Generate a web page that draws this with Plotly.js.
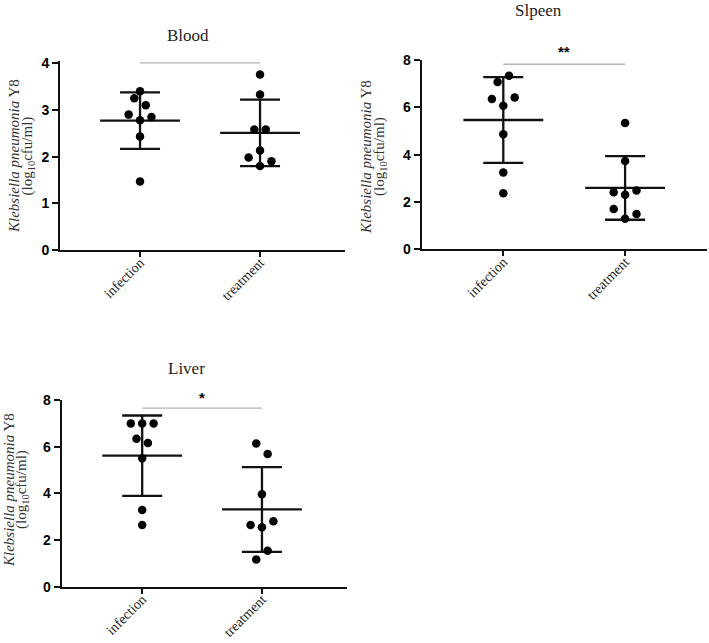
<!DOCTYPE html>
<html>
<head>
<meta charset="utf-8">
<script src="https://cdn.plot.ly/plotly-3.0.1.min.js"></script>
<style>html,body{margin:0;padding:0;background:#fff;}#chart{width:709px;height:643px;}</style>
</head>
<body>
<div id="chart"></div>
<script>
// ---------------- data ----------------
const categories = ['infection', 'treatment'];
const panelTitles = ['Blood', 'Slpeen', 'Liver'];
const sigMarks = ['', '**', '*'];
const sigLineY = [4.01, 7.82, 7.65];
const sigTextY = [4.3, 8.35, 8.09];

const bloodInfection  = [3.40, 3.25, 3.10, 2.90, 2.85, 2.78, 2.43, 1.47];
const bloodTreatment  = [3.76, 3.33, 2.58, 2.58, 2.13, 1.98, 1.90, 1.80];
const spleenInfection = [7.33, 7.07, 6.42, 6.35, 6.07, 4.86, 3.25, 2.37];
const spleenTreatment = [5.34, 3.73, 2.49, 2.41, 2.31, 1.70, 1.49, 1.29];
const liverInfection  = [6.99, 6.99, 6.99, 6.34, 6.16, 5.50, 3.29, 2.64];
const liverTreatment  = [6.14, 5.69, 3.96, 2.80, 2.64, 2.55, 1.54, 1.17];

// swarm slots (horizontal spread of dots, in half-dot steps)
const bloodInfSlots  = [0, -1, 1, -2, 2, 0, 0, 0];
const bloodTrtSlots  = [0, 0, -1, 1, 0, -2, 2, 0];
const spleenInfSlots = [1, -1, 2, -2, 0, 0, 0, 0];
const spleenTrtSlots = [0, 0, 2, -2, 0, -2, 2, 0];
const liverInfSlots  = [-2, 0, 2, -1, 1, 0, 0, 0];
const liverTrtSlots  = [-1, 1, 0, 2, -2, 0, 1, -1];

const bloodTicks = [0, 1, 2, 3, 4];
const organTicks = [0, 2, 4, 6, 8];

// ---------------- layout geometry (px) ----------------
const W = 709, H = 643;
const px = p => p / W;
const py = p => 1 - p / H;

const panels = [
  {groups: [bloodInfection, bloodTreatment], slots: [bloodInfSlots, bloodTrtSlots], ticks: bloodTicks,
   x0: 60, x1: 345, xr: [-0.667, 1.708], y0: 250, yTopPx: 61.4, yr: [0, 4.04],
   titleX: 188, titleY: 35, ytl1: 14, ytl2: 27.5, ytY: 156},
  {groups: [spleenInfection, spleenTreatment], slots: [spleenInfSlots, spleenTrtSlots], ticks: organTicks,
   x0: 421.7, x1: 706.7, xr: [-0.67, 1.67], y0: 249.3, yTopPx: 60, yr: [0, 8],
   titleX: 538, titleY: 10, ytl1: 366, ytl2: 380, ytY: 157},
  {groups: [liverInfection, liverTreatment], slots: [liverInfSlots, liverTrtSlots], ticks: organTicks,
   x0: 61.7, x1: 347, xr: [-0.672, 1.71], y0: 586.7, yTopPx: 400, yr: [0, 8],
   titleX: 187, titleY: 368, ytl1: 9, ytl2: 22, ytY: 490}
];

const slotPx = 5.7;
const mean = a => a.reduce((s, v) => s + v, 0) / a.length;
const sd = a => { const m = mean(a); return Math.sqrt(a.reduce((s, v) => s + (v - m) * (v - m), 0) / (a.length - 1)); };

const traces = [];
const layout = {
  width: W, height: H,
  margin: {l: 0, r: 0, t: 0, b: 0},
  paper_bgcolor: '#fff', plot_bgcolor: '#fff',
  showlegend: false,
  annotations: []
};

const serif = 'Liberation Serif, Times New Roman, serif';
const sans = 'Liberation Sans, Arial, sans-serif';

panels.forEach((p, i) => {
  const n = i === 0 ? '' : String(i + 1);
  const xa = 'x' + n, ya = 'y' + n;
  const pxPerUnit = (p.x1 - p.x0) / (p.xr[1] - p.xr[0]);
  const xToPx = v => p.x0 + (v - p.xr[0]) * pxPerUnit;
  const yToPx = v => p.y0 - (v - p.yr[0]) / (p.yr[1] - p.yr[0]) * (p.y0 - p.yTopPx);

  // significance line
  traces.push({
    type: 'scatter', mode: 'lines', xaxis: xa, yaxis: ya,
    x: [0, 1], y: [sigLineY[i], sigLineY[i]],
    line: {color: '#b5b5b5', width: 1.3}, hoverinfo: 'skip'
  });

  p.groups.forEach((vals, g) => {
    // mean line + SD error bar
    traces.push({
      type: 'scatter', mode: 'markers', xaxis: xa, yaxis: ya, cliponaxis: false,
      x: [g], y: [mean(vals)],
      marker: {symbol: 'line-ew', size: 57, color: '#111', line: {color: '#111', width: 2.3}},
      error_y: {type: 'data', array: [sd(vals)], visible: true, width: 20, thickness: 2.3, color: '#111'}
    });
    // dots
    traces.push({
      type: 'scatter', mode: 'markers', xaxis: xa, yaxis: ya, cliponaxis: false,
      x: vals.map((v, k) => g + p.slots[g][k] * slotPx / pxPerUnit),
      y: vals,
      marker: {size: 8.5, color: '#000', line: {width: 0}}
    });
  });

  layout['xaxis' + n] = {
    domain: [px(p.x0), px(p.x1)], range: p.xr, anchor: ya,
    tickvals: [0, 1], ticktext: categories, tickangle: -45,
    ticks: 'outside', ticklen: 5, tickwidth: 2, tickcolor: '#111',
    ticklabelstandoff: -8,
    showline: true, linewidth: 2, linecolor: '#111',
    showgrid: false, zeroline: false, fixedrange: true,
    tickfont: {family: serif, size: 14, color: '#222'}
  };
  layout['yaxis' + n] = {
    domain: [py(p.y0), py(p.yTopPx)], range: p.yr, anchor: xa,
    tickvals: p.ticks, ticktext: p.ticks.map(String),
    ticks: 'outside', ticklen: 6, tickwidth: 2, tickcolor: '#111',
    showline: true, linewidth: 2, linecolor: '#111',
    showgrid: false, zeroline: false, fixedrange: true,
    tickfont: {family: sans, size: 14, weight: 'bold', color: '#000'}
  };

  // panel title
  layout.annotations.push({
    xref: 'paper', yref: 'paper', x: px(p.titleX), y: py(p.titleY),
    xanchor: 'center', yanchor: 'middle', showarrow: false,
    text: panelTitles[i], font: {family: serif, size: 17, color: '#222'}
  });
  // significance mark
  if (sigMarks[i]) {
    layout.annotations.push({
      xref: 'paper', yref: 'paper', x: px(xToPx(0.5)), y: py(yToPx(sigTextY[i])),
      xanchor: 'center', yanchor: 'middle', showarrow: false,
      text: '<b>' + sigMarks[i] + '</b>', font: {family: sans, size: 15, color: '#000'}
    });
  }
  // y-axis title (two lines)
  layout.annotations.push({
    xref: 'paper', yref: 'paper', x: px(p.ytl1), y: py(p.ytY),
    xanchor: 'center', yanchor: 'middle', showarrow: false, textangle: -90,
    text: '<i>Klebsiella pneumonia</i> Y8', font: {family: serif, size: 15, color: '#333'}
  });
  layout.annotations.push({
    xref: 'paper', yref: 'paper', x: px(p.ytl2), y: py(p.ytY),
    xanchor: 'center', yanchor: 'middle', showarrow: false, textangle: -90,
    text: '(log<sub>10</sub>cfu/ml)', font: {family: serif, size: 15, color: '#333'}
  });
});

Plotly.newPlot('chart', traces, layout, {displayModeBar: false, staticPlot: true});
</script>
</body>
</html>
